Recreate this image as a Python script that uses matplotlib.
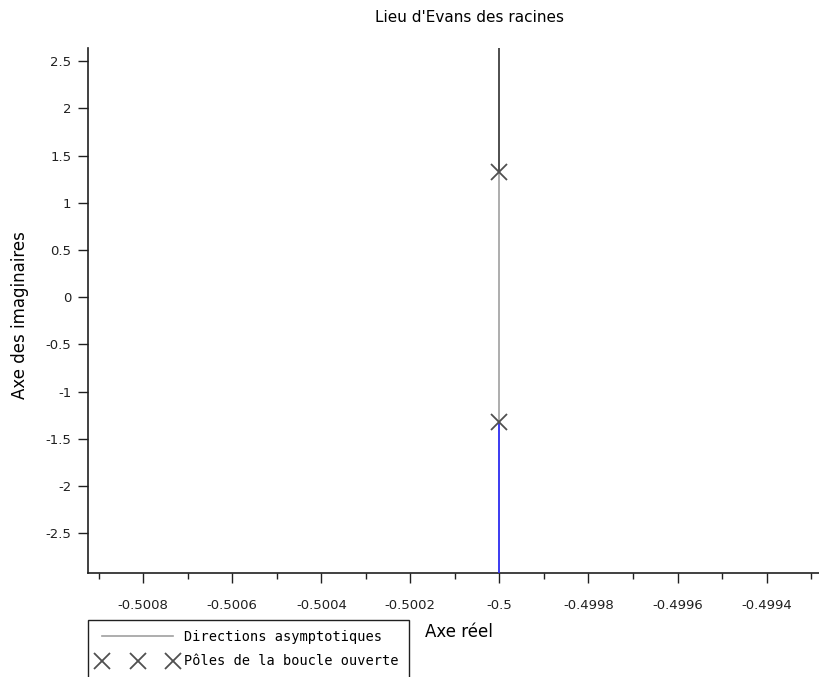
import matplotlib.pyplot as plt
from matplotlib.ticker import MultipleLocator, FuncFormatter

# open-loop poles of the system
pole_re = [-0.5, -0.5]
pole_im = [1.3229, -1.3229]

# root locus branches (vertical, real part constant)
branch_up_re = [-0.5, -0.5]
branch_up_im = [1.3229, 3.0]
branch_down_re = [-0.5, -0.5]
branch_down_im = [-1.3229, -3.0]

# asymptote direction through the centroid
asym_re = [-0.5, -0.5]
asym_im = [-3.0, 3.0]

x_ticks = [-0.5008, -0.5006, -0.5004, -0.5002, -0.5, -0.4998, -0.4996, -0.4994]
y_ticks = [-2.5, -2, -1.5, -1, -0.5, 0, 0.5, 1, 1.5, 2, 2.5]

plt.rcParams['font.family'] = ['DejaVu Sans']

fig = plt.figure(figsize=(8.2, 6.77), dpi=100)
ax = fig.add_axes([88 / 820, 1 - 573 / 677, 1 - 88 / 820, (573 - 48) / 677])

ax.plot(asym_re, asym_im, color='#a0a0a0', lw=1.2, label='Directions asymptotiques', zorder=2)
ax.plot(branch_up_re, branch_up_im, color='#404040', lw=1.2, zorder=3)
ax.plot(branch_down_re, branch_down_im, color='#2a2aff', lw=1.2, zorder=3)
ax.plot(pole_re, pole_im, ls='none', marker='x', ms=11, mew=1.3, color='#505050',
        label='Pôles de la boucle ouverte', zorder=4)

ax.set_xlim(-0.500924, -0.49928)
ax.set_ylim(-2.92, 2.64)
ax.set_xticks(x_ticks)
ax.set_yticks(y_ticks)
ax.xaxis.set_minor_locator(MultipleLocator(0.0001))
ax.xaxis.set_major_formatter(FuncFormatter(lambda v, p: ('%g' % round(v, 6))))
ax.yaxis.set_major_formatter(FuncFormatter(lambda v, p: ('%g' % v)))

for s in ['top', 'right']:
    ax.spines[s].set_visible(False)
for s in ['left', 'bottom']:
    ax.spines[s].set_linewidth(1.2)
    ax.spines[s].set_color('#202020')
ax.tick_params(axis='both', which='major', direction='out', length=7, width=1, labelsize=9.5, colors='#202020')
ax.tick_params(axis='x', which='minor', direction='out', length=4, width=1, colors='#202020')
ax.tick_params(axis='x', pad=12)
ax.tick_params(axis='y', pad=5)

fig.text(470 / 820, 1 - 18 / 677, "Lieu d'Evans des racines", ha='center', va='center', fontsize=11)
fig.text(459 / 820, 1 - 632 / 677, 'Axe réel', ha='center', va='center', fontsize=12)
fig.text(20 / 820, 1 - 315 / 677, 'Axe des imaginaires', ha='center', va='center',
         rotation=90, fontsize=12)

leg = fig.legend(loc='upper left', bbox_to_anchor=(88 / 820, 1 - 620 / 677), numpoints=3,
                 handlelength=5.8, handletextpad=0.5, borderaxespad=0, borderpad=0.75,
                 labelspacing=0.75, fancybox=False, framealpha=1, edgecolor='#202020',
                 prop={'family': 'DejaVu Sans Mono', 'size': 9.8})
leg.get_frame().set_linewidth(1.0)

fig.savefig('out.png', dpi=100)
